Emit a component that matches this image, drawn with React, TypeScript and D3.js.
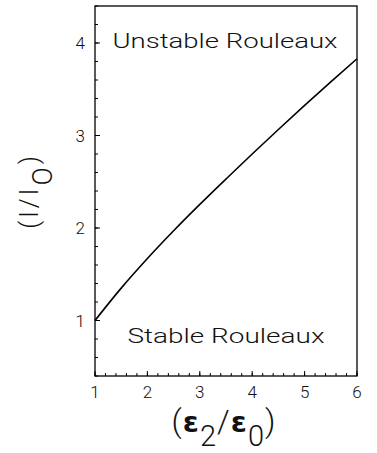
import React from "react";
import { scaleLinear, line, curveMonotoneX, range } from "d3";

// curve
const ratioX = [1, 1.5, 2, 2.5, 3, 3.5, 4, 4.5, 5, 5.5, 6];
const ratioY = [1, 1.35, 1.67, 1.97, 2.255, 2.53, 2.8, 3.065, 3.325, 3.58, 3.83];
const xTicks = [1, 2, 3, 4, 5, 6];
const yTicks = [1, 2, 3, 4];
const regionLabels = ["Unstable Rouleaux", "Stable Rouleaux"];

const font = "Roboto, 'Liberation Sans', Arial, sans-serif";

const App = () => {
  const width = 377;
  const height = 453;
  const margin = { top: 6, right: 20, bottom: 77, left: 95 };
  const innerWidth = width - margin.left - margin.right;
  const innerHeight = height - margin.top - margin.bottom;

  const xScale = scaleLinear().domain([1, 6]).range([0, innerWidth]);
  const yScale = scaleLinear().domain([0.4, 4.4]).range([innerHeight, 0]);

  const xMinor = range(1, 6.001, 0.2);
  const yMinor = range(0.4, 4.401, 0.2);

  const data = ratioX.map((x, i) => ({ x, y: ratioY[i] }));
  const path = line<{ x: number; y: number }>()
    .x((d) => xScale(d.x))
    .y((d) => yScale(d.y))
    .curve(curveMonotoneX)(data);

  return (
    <svg width={width} height={height} style={{ position: "absolute", left: 0, top: 0 }} fontFamily={font} fontWeight={300}>
      <rect width={width} height={height} fill="white" />
      <g transform={`translate(${margin.left},${margin.top})`}>
        <rect x={0} y={0} width={innerWidth} height={innerHeight} fill="none" stroke="black" strokeWidth={1.3} />

        {yMinor.map((v) => (
          <line key={"ym" + v} x1={0} x2={3} y1={yScale(v)} y2={yScale(v)} stroke="black" strokeWidth={1} />
        ))}
        {yTicks.map((v) => (
          <g key={"y" + v}>
            <line x1={0} x2={5} y1={yScale(v)} y2={yScale(v)} stroke="black" strokeWidth={1} />
            <text x={-10} y={yScale(v)} textAnchor="end" dominantBaseline="central" fontSize={17} fill="#111">
              {v}
            </text>
          </g>
        ))}

        {xMinor.map((v) => (
          <line key={"xm" + v} x1={xScale(v)} x2={xScale(v)} y1={innerHeight} y2={innerHeight - 3} stroke="black" strokeWidth={1} />
        ))}
        {xTicks.map((v) => (
          <g key={"x" + v}>
            <line x1={xScale(v)} x2={xScale(v)} y1={innerHeight} y2={innerHeight - 5} stroke="black" strokeWidth={1} />
            <text x={xScale(v)} y={innerHeight + 22} textAnchor="middle" fontSize={17} fill="#111">
              {v}
            </text>
          </g>
        ))}

        <path d={path ?? ""} fill="none" stroke="black" strokeWidth={1.6} />

        <text x={130} y={42} textAnchor="middle" fontSize={21} fill="#111" textLength={225} lengthAdjust="spacingAndGlyphs">
          {regionLabels[0]}
        </text>
        <text x={131} y={337} textAnchor="middle" fontSize={21} fill="#111" textLength={197} lengthAdjust="spacingAndGlyphs">
          {regionLabels[1]}
        </text>
      </g>

      <text transform="translate(38,191) rotate(-90)" textAnchor="middle" fontSize={25} fill="#111" letterSpacing={3}>
        (I/I
        <tspan dy={14} fontSize={27}>O</tspan>
        <tspan dy={-14}>)</tspan>
      </text>

      <text x={224} y={432} textAnchor="middle" fontSize={32} fill="#111" letterSpacing={1}>
        (
        <tspan fontFamily="'DejaVu Sans', sans-serif" fontWeight="bold" fontSize={29}>ε</tspan>
        <tspan dy={14} fontSize={29}>2</tspan>
        <tspan dy={-14}>/</tspan>
        <tspan fontFamily="'DejaVu Sans', sans-serif" fontWeight="bold" fontSize={29}>ε</tspan>
        <tspan dy={14} fontSize={29}>0</tspan>
        <tspan dy={-14}>)</tspan>
      </text>
    </svg>
  );
};

export default App;
